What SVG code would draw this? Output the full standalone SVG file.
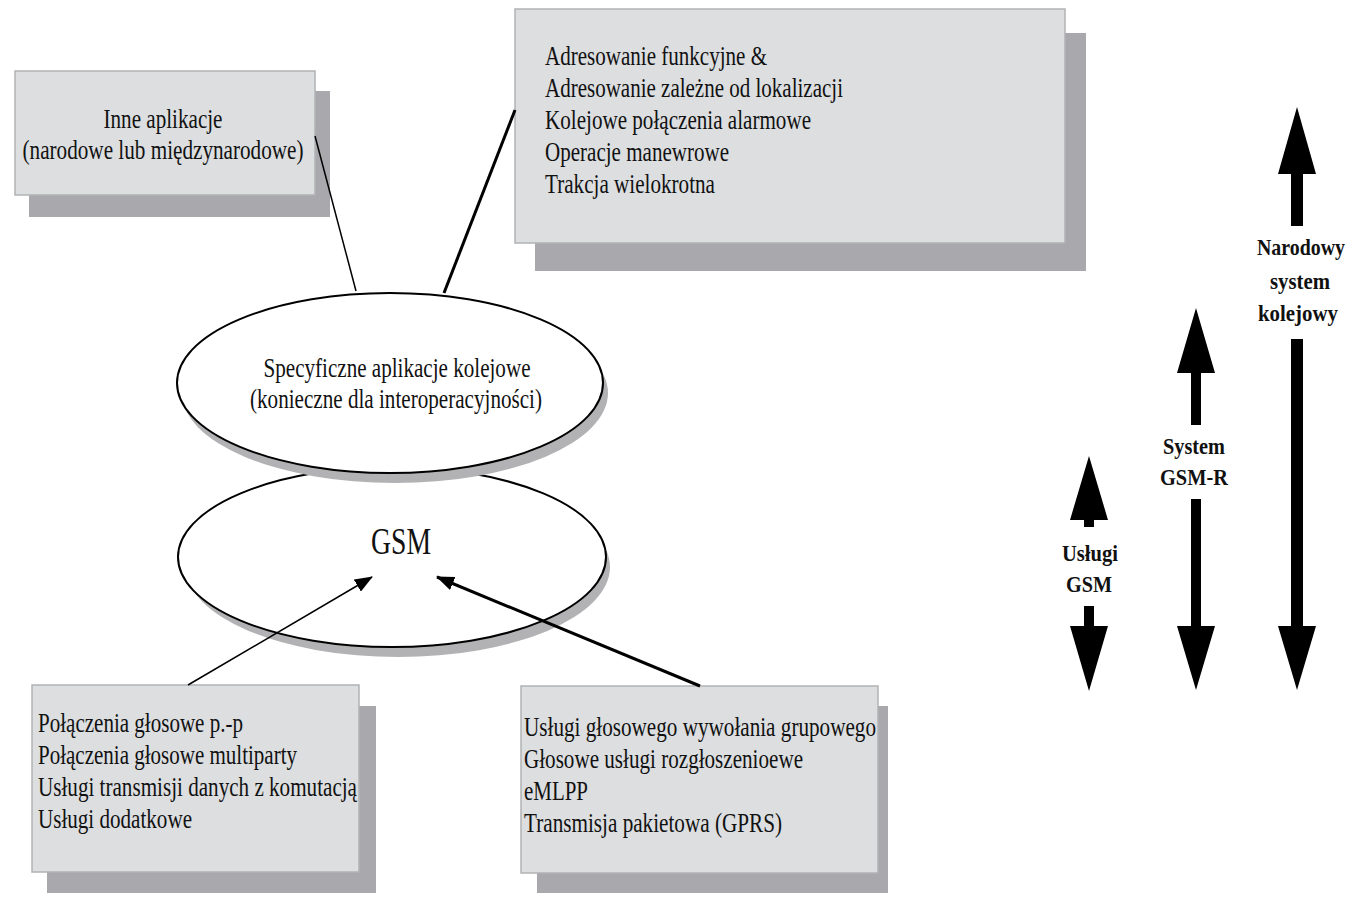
<svg xmlns="http://www.w3.org/2000/svg" width="1369" height="897" viewBox="0 0 1369 897">
<style>
.bg{fill:#ffffff}
.box{fill:#dcdee0;stroke:#b0b2b4;stroke-width:1.5}
.shadow{fill:#a9a9ad}
.eshadow{fill:#b2b2b4}
.ell{fill:#ffffff;stroke:#000000;stroke-width:2}
.t{font-family:"Liberation Serif","Times New Roman",serif;font-size:27px;fill:#111111}
.c{text-anchor:middle}
.gsm{font-family:"Liberation Serif","Times New Roman",serif;font-size:38px;fill:#111111;text-anchor:middle}
.lbl{font-family:"Liberation Serif","Times New Roman",serif;font-size:24px;font-weight:bold;fill:#111111;text-anchor:middle}
.thin{stroke:#000000;stroke-width:1.5;fill:none}
.thick{stroke:#000000;stroke-width:3;fill:none}
.bar{fill:#000000}
</style>
<defs>
<marker id="ah" markerUnits="userSpaceOnUse" markerWidth="18" markerHeight="14" refX="17" refY="7" orient="auto">
<path d="M0,0 L18,7 L0,14 z" fill="#000000"/>
</marker>
</defs>
<rect class="bg" x="0" y="0" width="1369" height="897"/>

<g id="node-inne">
<rect class="shadow" x="29" y="91" width="301" height="126"/>
<rect class="box" x="15" y="71" width="300" height="124"/>
<text class="t c" x="163" y="128" textLength="119" lengthAdjust="spacingAndGlyphs">Inne aplikacje</text>
<text class="t c" x="163" y="159" textLength="281" lengthAdjust="spacingAndGlyphs">(narodowe lub międzynarodowe)</text>
</g>

<g id="node-adresowanie">
<rect class="shadow" x="535" y="33" width="551" height="238"/>
<rect class="box" x="515" y="9" width="550" height="234"/>
<text class="t" x="545" y="65" textLength="222" lengthAdjust="spacingAndGlyphs">Adresowanie funkcyjne &amp;</text>
<text class="t" x="545" y="97" textLength="298" lengthAdjust="spacingAndGlyphs">Adresowanie zależne od lokalizacji</text>
<text class="t" x="545" y="129" textLength="266" lengthAdjust="spacingAndGlyphs">Kolejowe połączenia alarmowe</text>
<text class="t" x="545" y="161" textLength="184" lengthAdjust="spacingAndGlyphs">Operacje manewrowe</text>
<text class="t" x="545" y="193" textLength="170" lengthAdjust="spacingAndGlyphs">Trakcja wielokrotna</text>
</g>

<g id="node-gsm">
<ellipse class="eshadow" cx="398" cy="567" rx="212" ry="90"/>
<ellipse class="ell" cx="392" cy="557" rx="214" ry="90"/>
<text class="gsm" x="401" y="554" textLength="60" lengthAdjust="spacingAndGlyphs">GSM</text>
</g>

<g id="node-specyficzne">
<ellipse class="eshadow" cx="395" cy="393" rx="213" ry="90"/>
<ellipse class="ell" cx="390" cy="383" rx="213" ry="90"/>
<text class="t c" x="397" y="377" textLength="267" lengthAdjust="spacingAndGlyphs">Specyficzne aplikacje kolejowe</text>
<text class="t c" x="396" y="408" textLength="292" lengthAdjust="spacingAndGlyphs">(konieczne dla interoperacyjności)</text>
</g>

<g id="node-uslugi-podst">
<rect class="shadow" x="47" y="706" width="329" height="187"/>
<rect class="box" x="32" y="685" width="327" height="187"/>
<text class="t" x="38" y="732" textLength="205" lengthAdjust="spacingAndGlyphs">Połączenia głosowe p.-p</text>
<text class="t" x="38" y="764" textLength="259" lengthAdjust="spacingAndGlyphs">Połączenia głosowe multiparty</text>
<text class="t" x="38" y="796" textLength="319" lengthAdjust="spacingAndGlyphs">Usługi transmisji danych z komutacją</text>
<text class="t" x="38" y="828" textLength="154" lengthAdjust="spacingAndGlyphs">Usługi dodatkowe</text>
</g>

<g id="node-uslugi-asci">
<rect class="shadow" x="537" y="706" width="351" height="187"/>
<rect class="box" x="521" y="686" width="357" height="187"/>
<text class="t" x="524" y="736" textLength="352" lengthAdjust="spacingAndGlyphs">Usługi głosowego wywołania grupowego</text>
<text class="t" x="524" y="768" textLength="279" lengthAdjust="spacingAndGlyphs">Głosowe usługi rozgłoszenioewe</text>
<text class="t" x="524" y="800" textLength="64" lengthAdjust="spacingAndGlyphs">eMLPP</text>
<text class="t" x="524" y="832" textLength="258" lengthAdjust="spacingAndGlyphs">Transmisja pakietowa (GPRS)</text>
</g>

<g id="connectors">
<line class="thin" x1="315" y1="136" x2="356" y2="291"/>
<line class="thick" x1="515" y1="110" x2="444" y2="293"/>
<line class="thin" x1="188" y1="685" x2="372" y2="577" marker-end="url(#ah)"/>
<line class="thick" x1="700" y1="686" x2="437" y2="577" marker-end="url(#ah)"/>
</g>

<g id="scale-uslugi-gsm">
<polygon class="bar" points="1089,456 1108,520 1094,520 1094,527 1084,527 1084,520 1070,520"/>
<polygon class="bar" points="1084,606 1094,606 1094,626 1108,626 1089,691 1070,626 1084,626"/>
<text class="lbl" x="1090" y="561" textLength="56" lengthAdjust="spacingAndGlyphs">Usługi</text>
<text class="lbl" x="1089" y="592" textLength="46" lengthAdjust="spacingAndGlyphs">GSM</text>
</g>

<g id="scale-gsm-r">
<polygon class="bar" points="1196,308 1215,373 1201,373 1201,425 1191,425 1191,373 1177,373"/>
<polygon class="bar" points="1191,499 1201,499 1201,626 1215,626 1196,690 1177,626 1191,626"/>
<text class="lbl" x="1194" y="454" textLength="62" lengthAdjust="spacingAndGlyphs">System</text>
<text class="lbl" x="1194" y="485" textLength="68" lengthAdjust="spacingAndGlyphs">GSM-R</text>
</g>

<g id="scale-narodowy">
<polygon class="bar" points="1297,107 1316,174 1303,174 1303,226 1291,226 1291,174 1278,174"/>
<polygon class="bar" points="1291,339 1303,339 1303,626 1316,626 1297,690 1278,626 1291,626"/>
<text class="lbl" x="1301" y="255" textLength="88" lengthAdjust="spacingAndGlyphs">Narodowy</text>
<text class="lbl" x="1300" y="289" textLength="60" lengthAdjust="spacingAndGlyphs">system</text>
<text class="lbl" x="1298" y="321" textLength="80" lengthAdjust="spacingAndGlyphs">kolejowy</text>
</g>
</svg>
